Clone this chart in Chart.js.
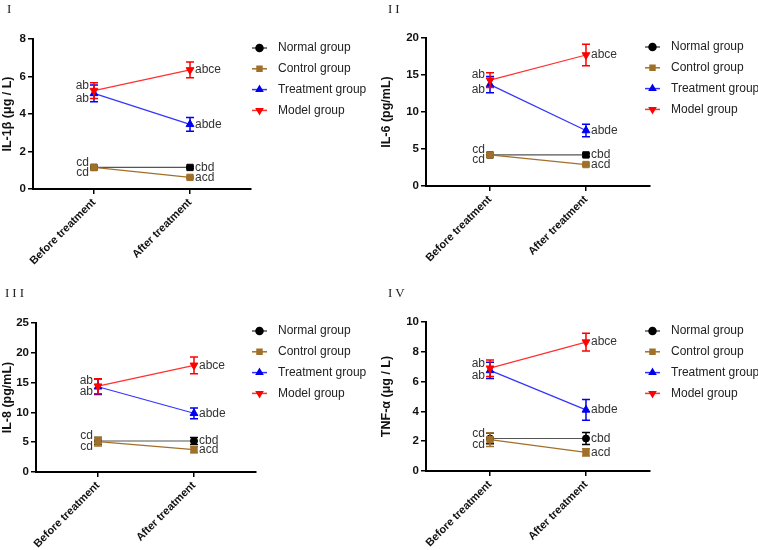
<!DOCTYPE html>
<html>
<head>
<meta charset="utf-8">
<script src="https://cdn.jsdelivr.net/npm/chart.js@4.4.0/dist/chart.umd.min.js"></script>
<style>
  body { margin: 0; background: #fff; }
  #wrap { position: relative; width: 758px; height: 550px; }
  .panel { position: absolute; width: 379px; height: 275px; }
  .num { position: absolute; font-family: "Liberation Serif", serif; font-size: 13px; color: #222; letter-spacing: 3px; }
</style>
</head>
<body>
<div id="wrap">
  <div class="panel" style="left:0;top:0"><canvas id="c1"></canvas></div>
  <div class="panel" style="left:379px;top:0"><canvas id="c2"></canvas></div>
  <div class="panel" style="left:0;top:275px"><canvas id="c3"></canvas></div>
  <div class="panel" style="left:379px;top:275px"><canvas id="c4"></canvas></div>
  <div class="num" style="left:7px;top:1px">I</div>
  <div class="num" style="left:388px;top:1px">II</div>
  <div class="num" style="left:5px;top:285px">III</div>
  <div class="num" style="left:388px;top:285px">IV</div>
</div>
<script>
const categories = ['Before treatment', 'After treatment'];
const groups = ['Normal group', 'Control group', 'Treatment group', 'Model group'];

// rows: normal, control, treatment, model ; columns: before, after
const il1bValues = [[1.15, 1.15], [1.15, 0.62], [5.1, 3.45], [5.25, 6.35]];
const il1bErrors = [[0.05, 0.05], [0.1, 0.05], [0.45, 0.37], [0.42, 0.42]];
const il6Values = [[4.2, 4.2], [4.2, 2.9], [13.7, 7.5], [14.3, 17.7]];
const il6Errors = [[0.2, 0.2], [0.2, 0.15], [1.1, 0.85], [1.0, 1.45]];
const il8Values = [[5.2, 5.2], [5.1, 3.75], [14.3, 9.85], [14.4, 17.9]];
const il8Errors = [[0.6, 0.6], [0.75, 0.5], [1.3, 0.9], [1.25, 1.4]];
const tnfValues = [[2.18, 2.18], [2.1, 1.25], [6.75, 4.1], [6.9, 8.65]];
const tnfErrors = [[0.35, 0.4], [0.45, 0.25], [0.55, 0.7], [0.55, 0.6]];

const beforeLabels = ['cd', 'cd', 'ab', 'ab'];
const afterLabels = ['cbd', 'acd', 'abde', 'abce'];

const pointColors = ['#000000', '#a0702a', '#0000ee', '#ff0000'];
const lineColors = ['#555555', '#a0702a', '#3333ff', '#ff3030'];
const pointStyles = ['circle', 'rect', 'triangle', 'triangle'];
const rotations = [0, 0, 0, 180];
const labelOffsets = [-5, 5, 5, -5];

const FONT = '"Liberation Sans", Arial, sans-serif';

const errorBars = {
  id: 'errorBars',
  afterDatasetDraw(chart, args) {
    const ds = chart.data.datasets[args.index];
    const y = chart.scales.y;
    const ctx = chart.ctx;
    ctx.save();
    ctx.strokeStyle = ds.pointBackgroundColor;
    ctx.lineWidth = 1.5;
    args.meta.data.forEach((p, i) => {
      const v = ds.data[i].y, e = ds.errors[i];
      const t = y.getPixelForValue(v + e), b = y.getPixelForValue(v - e);
      ctx.beginPath();
      ctx.moveTo(p.x, t); ctx.lineTo(p.x, b);
      ctx.moveTo(p.x - 4, t); ctx.lineTo(p.x + 4, t);
      ctx.moveTo(p.x - 4, b); ctx.lineTo(p.x + 4, b);
      ctx.stroke();
    });
    ctx.restore();
  }
};

const sigLabels = {
  id: 'sigLabels',
  afterDraw(chart) {
    const ctx = chart.ctx;
    ctx.save();
    ctx.font = '12px ' + FONT;
    ctx.fillStyle = '#333';
    ctx.textBaseline = 'middle';
    chart.data.datasets.forEach((ds, i) => {
      const pts = chart.getDatasetMeta(i).data;
      ctx.textAlign = 'right';
      ctx.fillText(beforeLabels[i], pts[0].x - 5, pts[0].y + labelOffsets[i]);
      ctx.textAlign = 'left';
      ctx.fillText(afterLabels[i], pts[1].x + 5, pts[1].y);
    });
    ctx.restore();
  }
};

const sideLegend = {
  id: 'sideLegend',
  afterDraw(chart, args, opts) {
    const ctx = chart.ctx;
    ctx.save();
    ctx.font = '12px ' + FONT;
    ctx.textBaseline = 'middle';
    ctx.textAlign = 'left';
    chart.data.datasets.forEach((ds, i) => {
      const y = opts.y + i * 20.8;
      ctx.strokeStyle = ds.borderColor;
      ctx.lineWidth = 1.5;
      ctx.beginPath();
      ctx.moveTo(opts.x, y); ctx.lineTo(opts.x + 15, y);
      ctx.stroke();
      ctx.fillStyle = ds.pointBackgroundColor;
      ctx.strokeStyle = ds.pointBackgroundColor;
      Chart.helpers.drawPoint(ctx, { pointStyle: pointStyles[i], rotation: rotations[i], radius: 3.5, borderWidth: 1 }, opts.x + 7.5, y);
      ctx.fillStyle = '#222';
      ctx.fillText(ds.label, opts.x + 26, y);
    });
    ctx.restore();
  }
};

function makePanel(id, values, errors, yTitle, yMax, yStep, box, normalStyle) {
  const datasets = groups.map((g, i) => {
    const style = i === 0 ? normalStyle : pointStyles[i];
    return {
      label: g,
      order: 3 - i,
      data: values[i].map((v, j) => ({ x: j, y: v })),
      errors: errors[i],
      borderColor: lineColors[i],
      borderWidth: 1.2,
      pointBackgroundColor: pointColors[i],
      pointBorderColor: pointColors[i],
      pointStyle: style,
      pointRotation: rotations[i],
      pointRadius: style === 'circle' ? 3.5 : 4.5,
      pointBorderWidth: 1
    };
  });
  return new Chart(document.getElementById(id), {
    type: 'line',
    data: { datasets },
    plugins: [errorBars, sigLabels, sideLegend],
    options: {
      responsive: true,
      maintainAspectRatio: false,
      animation: false,
      layout: { padding: { top: box.top, right: box.right, left: 0, bottom: 0 } },
      plugins: {
        legend: { display: false },
        tooltip: { enabled: false },
        sideLegend: { x: box.lx, y: box.ly }
      },
      scales: {
        x: {
          type: 'linear',
          min: -box.pad, max: 1 + box.pad,
          afterBuildTicks: s => { s.ticks = [{ value: 0 }, { value: 1 }]; },
          afterFit: s => { s.height = box.xh; },
          ticks: {
            callback: v => categories[v],
            minRotation: 45, maxRotation: 45,
            color: '#111',
            font: { family: FONT, size: 11, weight: 'bold' },
            padding: 2
          },
          grid: { drawOnChartArea: false, color: '#000', lineWidth: 1.5, tickLength: 5 },
          border: { color: '#000', width: 2 }
        },
        y: {
          min: 0, max: yMax,
          afterFit: s => { s.width = box.yw; },
          ticks: {
            stepSize: yStep,
            color: '#111',
            font: { family: FONT, size: 11.5, weight: 'bold' },
            padding: 2
          },
          title: {
            display: true, text: yTitle, color: '#111',
            font: { family: FONT, size: 12.5, weight: 'bold' },
            padding: { top: 0, bottom: 0 }
          },
          grid: { drawOnChartArea: false, color: '#000', lineWidth: 1.5, tickLength: 5 },
          border: { color: '#000', width: 2 }
        }
      }
    }
  });
}

makePanel('c1', il1bValues, il1bErrors, 'IL-1β (μg / L)', 8, 2,
  { top: 39, right: 128, yw: 33, xh: 86, pad: 0.635, lx: 252, ly: 48 }, 'rect');
makePanel('c2', il6Values, il6Errors, 'IL-6 (pg/mL)', 20, 5,
  { top: 38, right: 108, yw: 47, xh: 89, pad: 0.667, lx: 266, ly: 47 }, 'rect');
makePanel('c3', il8Values, il8Errors, 'IL-8 (pg/mL)', 25, 5,
  { top: 48, right: 123, yw: 36, xh: 78, pad: 0.646, lx: 252, ly: 56 }, 'circle');
makePanel('c4', tnfValues, tnfErrors, 'TNF-α (μg / L)', 10, 2,
  { top: 47, right: 108, yw: 47, xh: 79, pad: 0.667, lx: 266, ly: 56 }, 'circle');
</script>
</body>
</html>
